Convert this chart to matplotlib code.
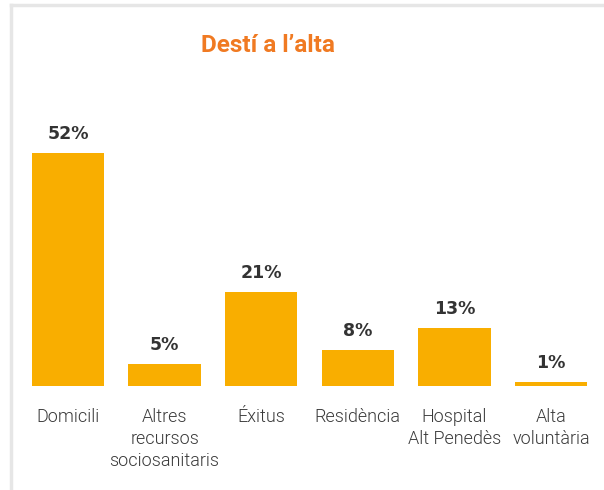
import matplotlib
matplotlib.use("Agg")
import matplotlib.pyplot as plt
from matplotlib.lines import Line2D

categories = ["Domicili", "Altres\nrecursos\nsociosanitaris", "Éxitus",
              "Residència", "Hospital\nAlt Penedès", "Alta\nvoluntària"]
values = [52, 5, 21, 8, 13, 1]
value_labels = ["52%", "5%", "21%", "8%", "13%", "1%"]

BAR = "#F9AE00"
TITLE = "#F07A22"

W, H = 604, 490
fig = plt.figure(figsize=(W / 100, H / 100), dpi=100)

# light frame on left and top
fig.add_artist(Line2D([11 / W, 11 / W], [0, 1 - 5 / H], color="#e6e6e6", lw=2.5))
fig.add_artist(Line2D([11 / W, 1], [1 - 5 / H, 1 - 5 / H], color="#e6e6e6", lw=2.5))

L, R, B, T = 20, 600, 386, 100
ax = fig.add_axes([L / W, 1 - B / H, (R - L) / W, (B - T) / H])
step = 96.6
x0 = 68
ax.set_xlim((L - x0) / step, (R - x0) / step)
ax.set_ylim(0, (B - T) / 4.48)

xs = list(range(len(values)))
ax.bar(xs, values, width=0.75, color=BAR)
for x, v, lab, cat in zip(xs, values, value_labels, categories):
    ax.annotate(lab, (x, v), xytext=(0, 7), textcoords="offset points",
                ha="center", va="bottom", fontsize=12.5, fontweight="bold",
                color="#333333", family="DejaVu Sans")
    ax.annotate(cat, (x, 0), xytext=(0, -16),
                textcoords="offset points", ha="center", va="top",
                fontsize=13, color="#3a3a3a", family="Roboto",
                fontweight=300, linespacing=1.28)

ax.axis("off")

fig.text(0.5 * (203 + 332) / W, 1 - 46 / H, "Destí a l\u2019alta", ha="center",
         va="center", fontsize=17.5, fontweight="bold", color=TITLE,
         family="Roboto")

fig.savefig("out.png", dpi=100)
